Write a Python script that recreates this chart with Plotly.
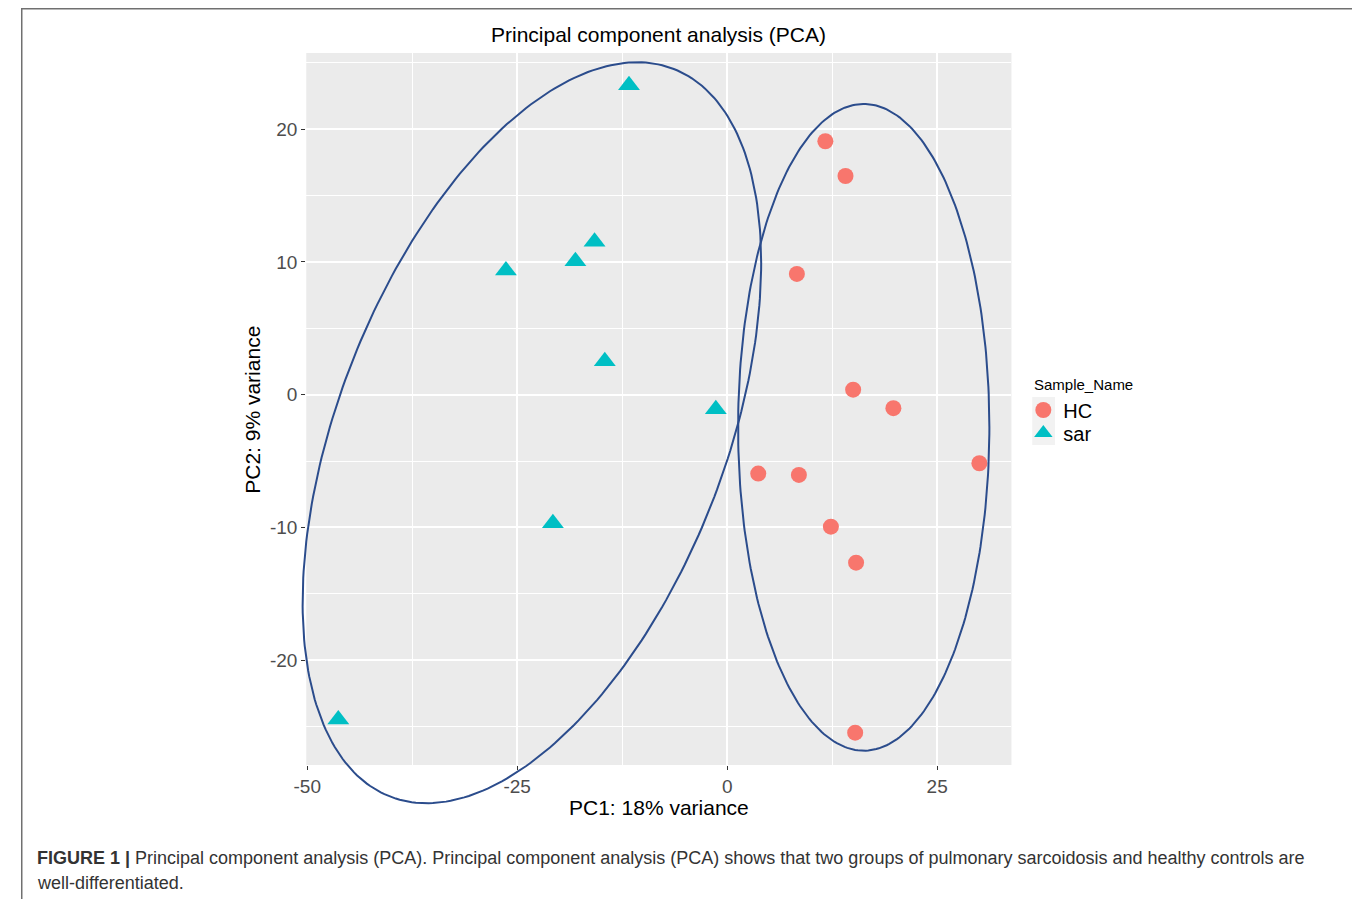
import numpy as np
import plotly.graph_objects as go

# ---------------- data ----------------
hc_x = [11.69, 14.09, 8.30, 15.00, 19.79, 30.03, 3.70, 8.54, 12.35, 15.35, 15.24]
hc_y = [19.10, 16.48, 9.10, 0.38, -1.02, -5.17, -5.95, -6.05, -9.95, -12.66, -25.47]
sar_x = [-11.69, -26.34, -18.07, -15.79, -14.57, -1.35, -20.75, -46.30]
sar_y = [23.31, 9.35, 10.06, 11.52, 2.51, -1.09, -9.69, -24.48]

# ellipse parameters (center x, center y, half-width x, half-height y, x-offset fraction of top point)
ell_sar = (-23.25, -2.87, 27.30, 27.92, 0.459)
ell_hc = (16.26, -2.46, 14.96, 24.37, 0.0)

x_ticks = [-50, -25, 0, 25]
x_ticktext = ["-50", "-25", "0", "25"]
y_ticks = [-20, -10, 0, 10, 20]
y_ticktext = ["-20", "-10", "0", "10", "20"]

title_text = "Principal component analysis (PCA)"
x_title = "PC1: 18% variance"
y_title = "PC2: 9% variance"
legend_title = "Sample_Name"
caption1 = ("<b>FIGURE 1 |</b> Principal component analysis (PCA). Principal component analysis (PCA) "
            "shows that two groups of pulmonary sarcoidosis and healthy controls are")
caption2 = "well-differentiated."

# ---------------- layout geometry ----------------
W, H = 1360, 899
SHIFT = 8  # page body margin offset
FONT = "Liberation Sans, Arial, Helvetica, sans-serif"
px_left, px_right, px_top, px_bottom = 296, 1008, 53, 765

def px(x):
    return (x - SHIFT) / W

def py(y):
    return (H - (y - SHIFT)) / H

xd = [px(px_left), px(px_right)]
yd = [py(px_bottom), py(px_top)]

allx = hc_x + sar_x
ally = hc_y + sar_y
def expand(v):
    lo, hi = min(v), max(v)
    e = (hi - lo) * 0.05
    return [lo - e, hi + e]
xr = expand(allx)
yr = expand(ally)

def outer(r, d):
    w = r[1] - r[0]
    span = d[1] - d[0]
    return [r[0] - d[0] * w / span, r[1] + (1 - d[1]) * w / span]

def ellipse(p, n=300):
    cx, cy, rx, ry, k = p
    d = np.arccos(k)
    t = np.linspace(0, 2 * np.pi, n)
    return cx + rx * np.cos(t), cy + ry * np.cos(t - d)

fig = go.Figure()

fig.add_trace(go.Scatter(x=hc_x, y=hc_y, mode="markers", name="HC", legend="legend",
                         marker=dict(symbol="circle", size=16, color="#F8766D"),
                         xaxis="x", yaxis="y"))
fig.add_trace(go.Scatter(x=sar_x, y=sar_y, mode="markers", name="sar", legend="legend2",
                         marker=dict(symbol="triangle-up", size=19, color="#00BFC4"),
                         xaxis="x", yaxis="y"))

for p in (ell_sar, ell_hc):
    ex, ey = ellipse(p)
    fig.add_trace(go.Scatter(x=ex, y=ey, mode="lines", showlegend=False,
                             line=dict(color="#2B4C8C", width=2.0),
                             hoverinfo="skip", xaxis="x2", yaxis="y2"))

axis_common = dict(showline=False, zeroline=False, ticks="outside", ticklen=4,
                   tickwidth=1.1, tickcolor="#333333",
                   tickfont=dict(family=FONT, size=19, color="#4D4D4D"),
                   showgrid=True, gridcolor="#FFFFFF", gridwidth=1.5)

legend_common = dict(font=dict(family=FONT, size=20, color="#000000"),
                     xanchor="left", yanchor="middle", bgcolor="rgba(0,0,0,0)",
                     itemsizing="trace", borderwidth=0)

fig.update_layout(
    width=W, height=H, autosize=False,
    margin=dict(l=0, r=0, t=0, b=0),
    paper_bgcolor="white",
    plot_bgcolor="rgba(0,0,0,0)",
    font=dict(family=FONT, color="#000000"),
    xaxis=dict(domain=xd, range=xr, tickvals=x_ticks, ticktext=x_ticktext, anchor="y",
               minor=dict(dtick=12.5, tick0=0, showgrid=True, gridcolor="#FFFFFF",
                          gridwidth=0.75, ticks=""),
               **axis_common),
    yaxis=dict(domain=yd, range=yr, tickvals=y_ticks, ticktext=y_ticktext, anchor="x",
               minor=dict(dtick=5, tick0=0, showgrid=True, gridcolor="#FFFFFF",
                          gridwidth=0.75, ticks=""),
               **axis_common),
    xaxis2=dict(domain=[0, 1], range=outer(xr, xd), visible=False, anchor="y2",
                showgrid=False, zeroline=False),
    yaxis2=dict(domain=[0, 1], range=outer(yr, yd), visible=False, anchor="x2",
                showgrid=False, zeroline=False),
    showlegend=True,
    legend=dict(x=px(1020), y=py(410), **legend_common),
    legend2=dict(x=px(1020), y=py(433), **legend_common),
    shapes=[
        dict(type="rect", xref="x domain", yref="y domain", x0=0, x1=1, y0=0, y1=1,
             fillcolor="#EBEBEB", line=dict(width=0), layer="below"),
        dict(type="rect", xref="paper", yref="paper", x0=px(1029), x1=px(1052),
             y0=py(445), y1=py(397), fillcolor="#F2F2F2", line=dict(width=0),
             layer="below"),
        dict(type="rect", xref="paper", yref="paper", x0=px(8.75), x1=px(1355),
             y0=-0.02, y1=py(8.75), line=dict(color="#707070", width=1.5),
             fillcolor="rgba(0,0,0,0)", layer="above"),
    ],
    annotations=[
        dict(text=title_text, xref="paper", yref="paper", x=px(652), y=py(35),
             xanchor="center", yanchor="middle", showarrow=False,
             font=dict(family=FONT, size=21, color="#000000")),
        dict(text=x_title, xref="paper", yref="paper", x=px(652), y=py(807),
             xanchor="center", yanchor="middle", showarrow=False,
             font=dict(family=FONT, size=21, color="#000000")),
        dict(text=y_title, xref="paper", yref="paper", x=px(242), y=py(410),
             xanchor="center", yanchor="middle", showarrow=False, textangle=-90,
             font=dict(family=FONT, size=21, color="#000000")),
        dict(text=legend_title, xref="paper", yref="paper", x=px(1029), y=py(384),
             xanchor="left", yanchor="middle", showarrow=False,
             font=dict(family=FONT, size=15, color="#000000")),
        dict(text=caption1, xref="paper", yref="paper", x=px(22), y=py(858),
             xanchor="left", yanchor="middle", showarrow=False, align="left",
             font=dict(family=FONT, size=18, color="#333333")),
        dict(text=caption2, xref="paper", yref="paper", x=px(22), y=py(883),
             xanchor="left", yanchor="middle", showarrow=False, align="left",
             font=dict(family=FONT, size=18, color="#333333")),
    ],
)

fig.write_html("out.html", config={"responsive": False})
